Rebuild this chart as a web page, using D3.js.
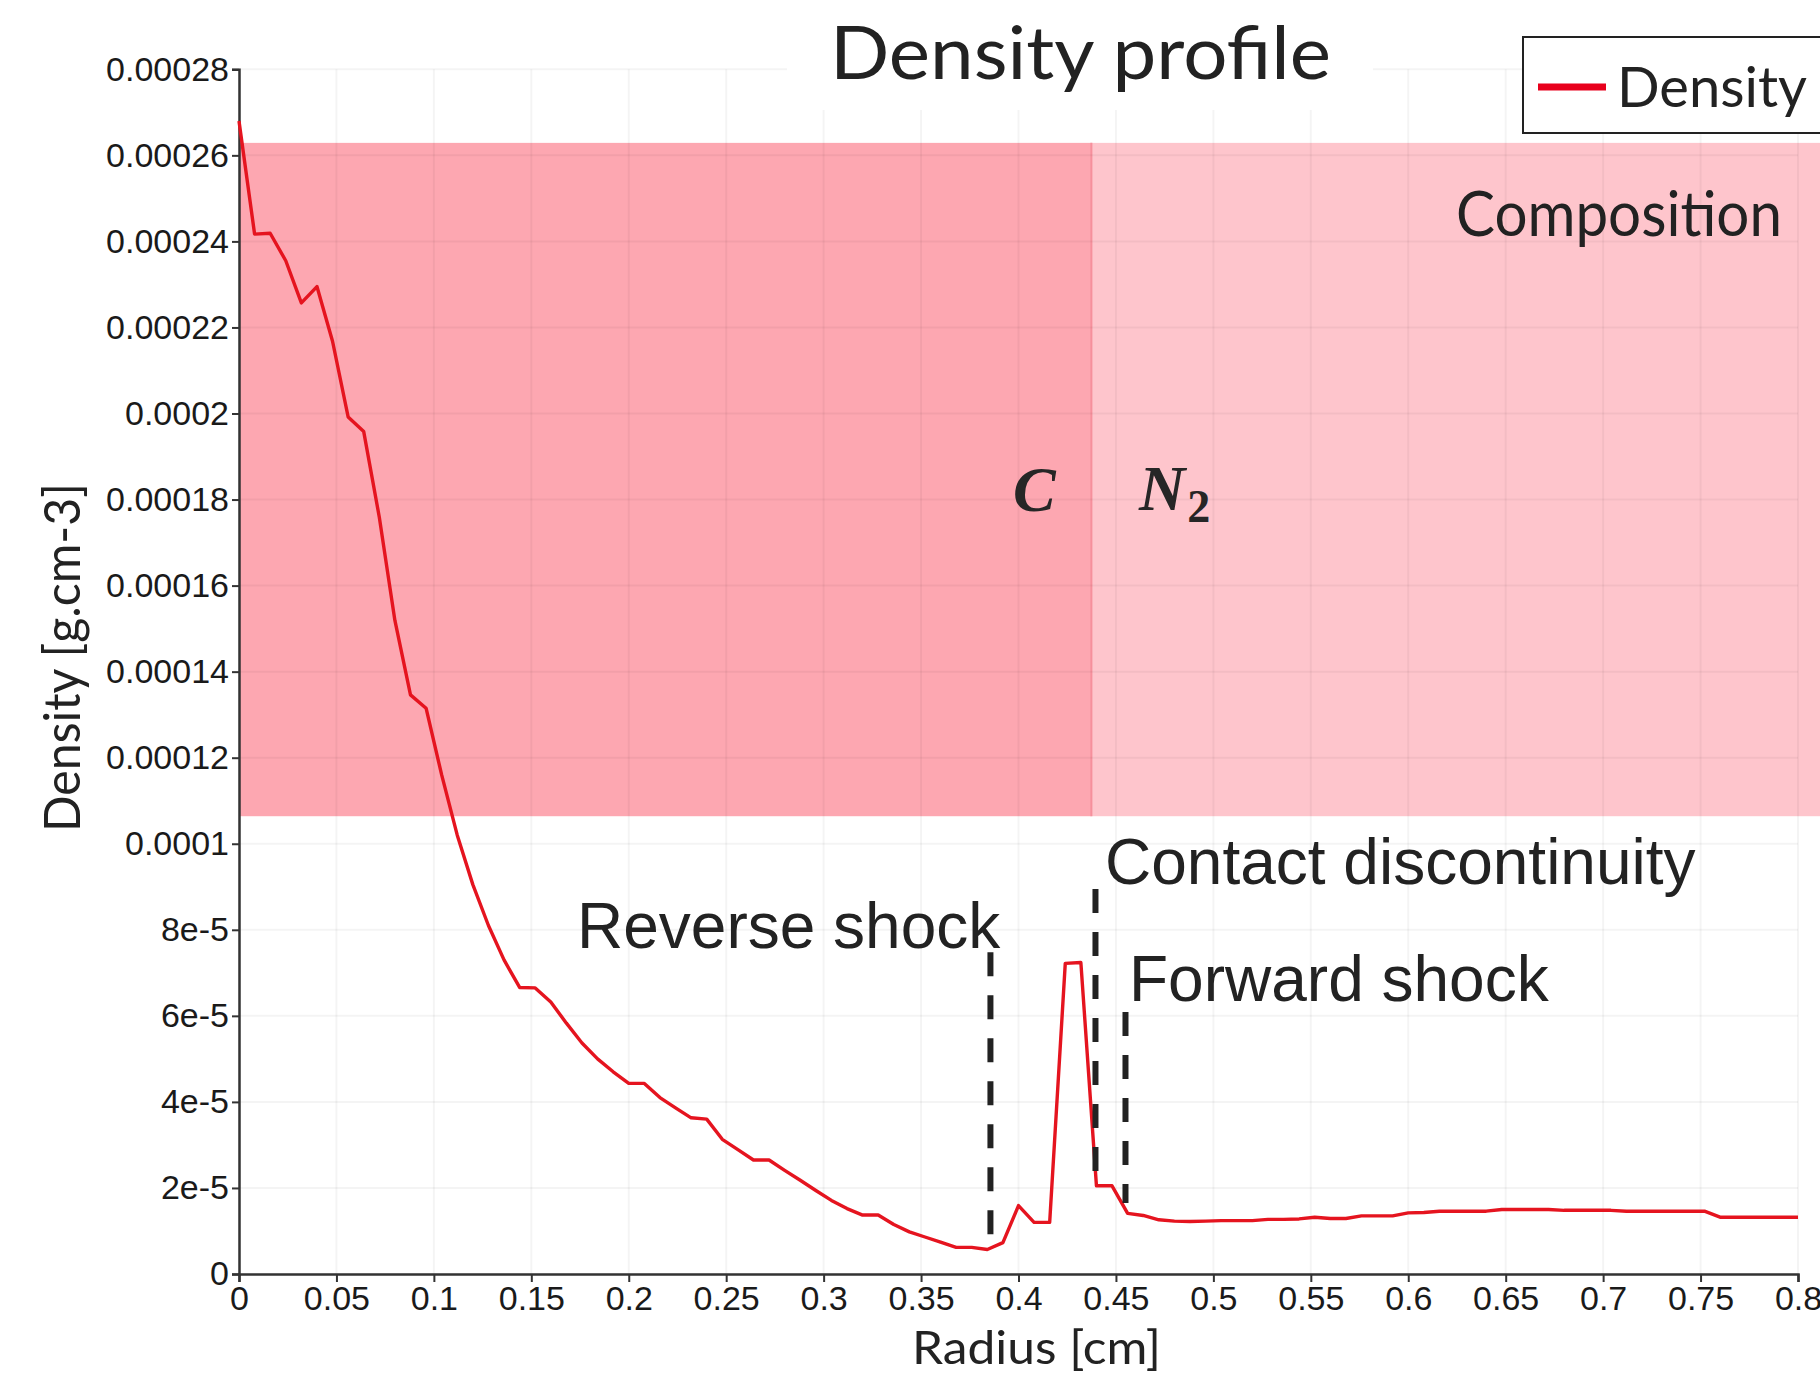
<!DOCTYPE html>
<html>
<head>
<meta charset="utf-8">
<script src="https://cdn.jsdelivr.net/npm/d3@7"></script>
<style>
  html, body { margin: 0; padding: 0; background: #fff; overflow: hidden; }
  svg { display: block; }
</style>
</head>
<body>
<svg id="chart" width="1820" height="1376"></svg>
<script>
// ---------- data ----------
const radius = [
  0.000, 0.008, 0.016, 0.024, 0.032, 0.040, 0.048, 0.056, 0.064, 0.072,
  0.080, 0.088, 0.096, 0.104, 0.112, 0.120, 0.128, 0.136, 0.144, 0.152,
  0.160, 0.168, 0.176, 0.184, 0.192, 0.200, 0.208, 0.216, 0.224, 0.232,
  0.240, 0.248, 0.256, 0.264, 0.272, 0.280, 0.288, 0.296, 0.304, 0.312,
  0.320, 0.328, 0.336, 0.344, 0.352, 0.360, 0.368, 0.376, 0.384, 0.392,
  0.400, 0.408, 0.416, 0.424, 0.432, 0.440, 0.448, 0.456, 0.464, 0.472,
  0.480, 0.488, 0.496, 0.504, 0.512, 0.520, 0.528, 0.536, 0.544, 0.552,
  0.560, 0.568, 0.576, 0.584, 0.592, 0.600, 0.608, 0.616, 0.624, 0.632,
  0.640, 0.648, 0.656, 0.664, 0.672, 0.680, 0.688, 0.696, 0.704, 0.712,
  0.720, 0.728, 0.736, 0.744, 0.752, 0.760, 0.768, 0.776, 0.784, 0.792,
  0.800
];
const density = [
  2.680e-4, 2.417e-4, 2.419e-4, 2.355e-4, 2.257e-4, 2.295e-4, 2.168e-4, 1.992e-4, 1.958e-4, 1.759e-4,
  1.519e-4, 1.346e-4, 1.315e-4, 1.160e-4, 1.020e-4, 0.905e-4, 0.810e-4, 0.730e-4, 0.666e-4, 0.665e-4,
  0.632e-4, 0.583e-4, 0.537e-4, 0.500e-4, 0.470e-4, 0.443e-4, 0.443e-4, 0.410e-4, 0.386e-4, 0.363e-4,
  0.360e-4, 0.313e-4, 0.289e-4, 0.265e-4, 0.265e-4, 0.241e-4, 0.218e-4, 0.194e-4, 0.171e-4, 0.152e-4,
  0.137e-4, 0.137e-4, 0.115e-4, 0.098e-4, 0.086e-4, 0.074e-4, 0.062e-4, 0.062e-4, 0.057e-4, 0.073e-4,
  0.159e-4, 0.120e-4, 0.120e-4, 0.722e-4, 0.724e-4, 0.205e-4, 0.205e-4, 0.141e-4, 0.136e-4, 0.126e-4,
  0.123e-4, 0.122e-4, 0.123e-4, 0.124e-4, 0.124e-4, 0.124e-4, 0.127e-4, 0.127e-4, 0.128e-4, 0.132e-4,
  0.129e-4, 0.129e-4, 0.135e-4, 0.135e-4, 0.135e-4, 0.142e-4, 0.143e-4, 0.146e-4, 0.146e-4, 0.146e-4,
  0.146e-4, 0.150e-4, 0.150e-4, 0.150e-4, 0.150e-4, 0.148e-4, 0.148e-4, 0.148e-4, 0.148e-4, 0.146e-4,
  0.146e-4, 0.146e-4, 0.146e-4, 0.146e-4, 0.146e-4, 0.132e-4, 0.132e-4, 0.132e-4, 0.132e-4, 0.132e-4,
  0.132e-4
];
const xTicks = [0, 0.05, 0.1, 0.15, 0.2, 0.25, 0.3, 0.35, 0.4, 0.45, 0.5, 0.55, 0.6, 0.65, 0.7, 0.75, 0.8];
const xTickLabels = ["0","0.05","0.1","0.15","0.2","0.25","0.3","0.35","0.4","0.45","0.5","0.55","0.6","0.65","0.7","0.75","0.8"];
const yTicks = [0, 2e-5, 4e-5, 6e-5, 8e-5, 1e-4, 1.2e-4, 1.4e-4, 1.6e-4, 1.8e-4, 2e-4, 2.2e-4, 2.4e-4, 2.6e-4, 2.8e-4];
const yTickLabels = ["0","2e-5","4e-5","6e-5","8e-5","0.0001","0.00012","0.00014","0.00016","0.00018","0.0002","0.00022","0.00024","0.00026","0.00028"];

// composition zones: [x start, x end (null = to edge)], y band
const zoneNames = ["C", "N2"];
const zoneStart = [0, 0.4374];
const zoneEnd = [0.4374, null];
const zoneYBottom = 1.064e-4;
const zoneYTop = 2.629e-4;

// shock markers
const markerNames = ["Reverse shock", "Contact discontinuity", "Forward shock"];
const markerX = [0.3856, 0.4395, 0.4549];
const markerYTop = [7.48e-5, 8.95e-5, 6.09e-5];
const markerYBottom = [0.86e-5, 2.09e-5, 1.65e-5];

// ---------- layout ----------
const W = 1820, H = 1376;
const plotLeft = 239, plotRight = 1798, plotBottom = 1274, plotTop = 69.3;
const svg = d3.select("#chart");

const x = d3.scaleLinear().domain([0, 0.8]).range([plotLeft, plotRight]);
const y = d3.scaleLinear().domain([0, 0.00028]).range([plotBottom, plotTop]);

// background
svg.append("rect").attr("width", W).attr("height", H).attr("fill", "#fff");

// composition zones
const zoneFill = ["#fda7b1", "#fec5cc"];
zoneNames.forEach((n, i) => {
  const x0 = x(zoneStart[i]);
  const x1 = zoneEnd[i] === null ? W : x(zoneEnd[i]);
  svg.append("rect")
    .attr("x", x0).attr("y", y(zoneYTop))
    .attr("width", x1 - x0).attr("height", y(zoneYBottom) - y(zoneYTop))
    .attr("fill", zoneFill[i]);
});
svg.append("line")
  .attr("x1", x(zoneEnd[0])).attr("x2", x(zoneEnd[0]))
  .attr("y1", y(zoneYTop)).attr("y2", y(zoneYBottom))
  .attr("stroke", "#f6909c").attr("stroke-width", 2);

// grid
const grid = svg.append("g").attr("stroke", "#000").attr("stroke-opacity", 0.045).attr("stroke-width", 2);
xTicks.forEach(t => {
  grid.append("line").attr("x1", x(t)).attr("x2", x(t)).attr("y1", plotTop).attr("y2", plotBottom);
});
yTicks.forEach(t => {
  grid.append("line").attr("x1", plotLeft).attr("x2", plotRight).attr("y1", y(t)).attr("y2", y(t));
});

// title backdrop
svg.append("rect").attr("x", 787).attr("y", 0).attr("width", 586).attr("height", 110).attr("fill", "#fff");

// axes
const xAxis = d3.axisBottom(x).tickValues(xTicks).tickFormat((d, i) => xTickLabels[i]).tickSizeOuter(0).tickSize(8).tickPadding(4);
const yAxis = d3.axisLeft(y).tickValues(yTicks).tickFormat((d, i) => yTickLabels[i]).tickSizeOuter(0).tickSize(7).tickPadding(3);

const gx = svg.append("g").attr("transform", `translate(0,${plotBottom})`).call(xAxis);
const gy = svg.append("g").attr("transform", `translate(${plotLeft},0)`).call(yAxis);
[gx, gy].forEach(g => {
  g.select(".domain").attr("stroke", "#333").attr("stroke-width", 2.5);
  g.selectAll(".tick line").attr("stroke", "#333").attr("stroke-width", 2);
  g.selectAll(".tick text")
    .attr("font-family", "'Liberation Sans', Arial, sans-serif")
    .attr("font-size", 34).attr("fill", "#1a1a1a");
});

// density curve
const line = d3.line().x((d, i) => x(radius[i])).y(d => y(d));
svg.append("path")
  .datum(density)
  .attr("d", line)
  .attr("fill", "none")
  .attr("stroke", "#e5141f")
  .attr("stroke-width", 3.4)
  .attr("stroke-linejoin", "round");

// shock markers (dashed)
markerNames.forEach((n, i) => {
  svg.append("line")
    .attr("x1", x(markerX[i])).attr("x2", x(markerX[i]))
    .attr("y1", y(markerYTop[i])).attr("y2", y(markerYBottom[i]))
    .attr("stroke", "#222").attr("stroke-width", 6)
    .attr("stroke-dasharray", "24 19");
});

// annotation texts
const annoFont = "'Liberation Sans', Arial, sans-serif";
const annoX = [577, 1105, 1129];
const annoY = [948, 884, 1001];
markerNames.forEach((n, i) => {
  svg.append("text").attr("x", annoX[i]).attr("y", annoY[i])
    .attr("font-family", annoFont).attr("font-size", 64).attr("fill", "#222").text(n);
});

// composition labels
const serif = "'Liberation Serif', 'DejaVu Serif', serif";
svg.append("text").attr("x", 1013).attr("y", 511)
  .attr("font-family", serif).attr("font-style", "italic").attr("font-weight", "bold")
  .attr("font-size", 64).attr("fill", "#262626").text("C");
const n2 = svg.append("text").attr("x", 1139).attr("y", 510)
  .attr("font-family", serif).attr("font-style", "italic").attr("font-weight", "bold")
  .attr("font-size", 64).attr("fill", "#262626");
n2.append("tspan").text("N");
n2.append("tspan").attr("font-size", 46).attr("font-style", "normal").attr("dy", 12).attr("dx", 2).text("2");

svg.append("text").attr("x", 1456).attr("y", 236)
  .attr("font-family", "Lato, 'Open Sans', sans-serif").attr("font-size", 61).attr("fill", "#222")
  .attr("textLength", 326).attr("lengthAdjust", "spacingAndGlyphs").text("Composition");

// title
svg.append("text").attr("x", 830).attr("y", 79)
  .attr("font-family", "Lato, 'Open Sans', sans-serif").attr("font-size", 74).attr("fill", "#222")
  .attr("textLength", 501).attr("lengthAdjust", "spacingAndGlyphs").text("Density profile");

// axis titles
svg.append("text").attr("x", 912).attr("y", 1364)
  .attr("font-family", "Lato, 'Open Sans', sans-serif").attr("font-size", 47).attr("fill", "#222")
  .attr("textLength", 249).attr("lengthAdjust", "spacingAndGlyphs").text("Radius [cm]");
svg.append("text")
  .attr("transform", "translate(80,832) rotate(-90)")
  .attr("font-family", "Lato, 'Open Sans', sans-serif").attr("font-size", 50).attr("fill", "#222")
  .attr("textLength", 349).attr("lengthAdjust", "spacingAndGlyphs").text("Density [g.cm-3]");

// legend
svg.append("rect").attr("x", 1523).attr("y", 37).attr("width", 320).attr("height", 96)
  .attr("fill", "#fff").attr("stroke", "#222").attr("stroke-width", 2);
svg.append("line").attr("x1", 1538).attr("x2", 1606).attr("y1", 87).attr("y2", 87)
  .attr("stroke", "#e8001c").attr("stroke-width", 7);
svg.append("text").attr("x", 1617).attr("y", 107)
  .attr("font-family", "Lato, 'Open Sans', sans-serif").attr("font-size", 57).attr("fill", "#222")
  .attr("textLength", 190).attr("lengthAdjust", "spacingAndGlyphs").text("Density");
</script>
</body>
</html>
